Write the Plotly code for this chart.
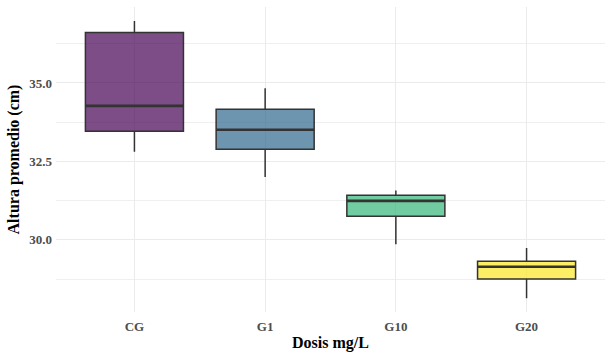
import plotly.graph_objects as go

categories = ["CG", "G1", "G10", "G20"]
lower_whisker = [32.81, 32.00, 29.86, 28.14]
q1_values = [33.46, 32.89, 30.75, 28.75]
medians = [34.27, 33.51, 31.24, 29.14]
q3_values = [36.61, 34.16, 31.42, 29.32]
upper_whisker = [36.97, 34.83, 31.57, 29.74]
fill_colors = ["rgba(68,1,84,0.7)", "rgba(49,104,142,0.7)",
               "rgba(53,183,121,0.7)", "rgba(253,231,37,0.7)"]

BOX_W = 0.75
positions = list(range(1, len(categories) + 1))

fig = go.Figure()
for i, cat in enumerate(categories):
    p = positions[i]
    fig.add_trace(go.Box(
        x=[p], q1=[q1_values[i]], median=[medians[i]], q3=[q3_values[i]],
        lowerfence=[lower_whisker[i]], upperfence=[upper_whisker[i]],
        width=BOX_W, whiskerwidth=0, boxpoints=False,
        fillcolor=fill_colors[i], line=dict(color="#333333", width=1.5),
        name=cat, showlegend=False, hoverinfo="skip"))
    fig.add_trace(go.Scatter(
        x=[p - BOX_W / 2, p + BOX_W / 2], y=[medians[i], medians[i]],
        mode="lines", line=dict(color="#333333", width=2.6),
        showlegend=False, hoverinfo="skip"))

serif = "Liberation Serif"
fig.update_layout(
    width=612, height=359,
    margin=dict(l=56, r=7, t=7, b=47, autoexpand=False),
    paper_bgcolor="white", plot_bgcolor="white",
    font=dict(family=serif),
    xaxis=dict(
        range=[0.4, 4.6], tickvals=positions, ticktext=categories,
        showgrid=True, gridcolor="#EBEBEB", gridwidth=1, zeroline=False,
        showline=False, ticks="", automargin=False,
        tickfont=dict(family=serif, size=13, color="#4D4D4D", weight="bold"),
        ticklabelstandoff=5,
        title=dict(text="Dosis mg/L", standoff=3,
                   font=dict(family=serif, size=16, color="black", weight="bold")),
    ),
    yaxis=dict(
        range=[27.70, 37.42], tick0=0, dtick=2.5, tickformat=".1f",
        showgrid=True, gridcolor="#EBEBEB", gridwidth=1, zeroline=False,
        showline=False, ticks="", automargin=False,
        minor=dict(dtick=1.25, tick0=0, showgrid=True, gridcolor="#EFEFEF", gridwidth=0.7),
        tickfont=dict(family=serif, size=13, color="#4D4D4D", weight="bold"),
        ticklabelstandoff=3,
        title=dict(text="Altura promedio (cm)", standoff=5,
                   font=dict(family=serif, size=16, color="black", weight="bold")),
    ),
)

fig.write_html(
    "out.html",
    config={"displayModeBar": False},
    post_script="document.body.style.margin='0';document.body.style.padding='0';",
)
